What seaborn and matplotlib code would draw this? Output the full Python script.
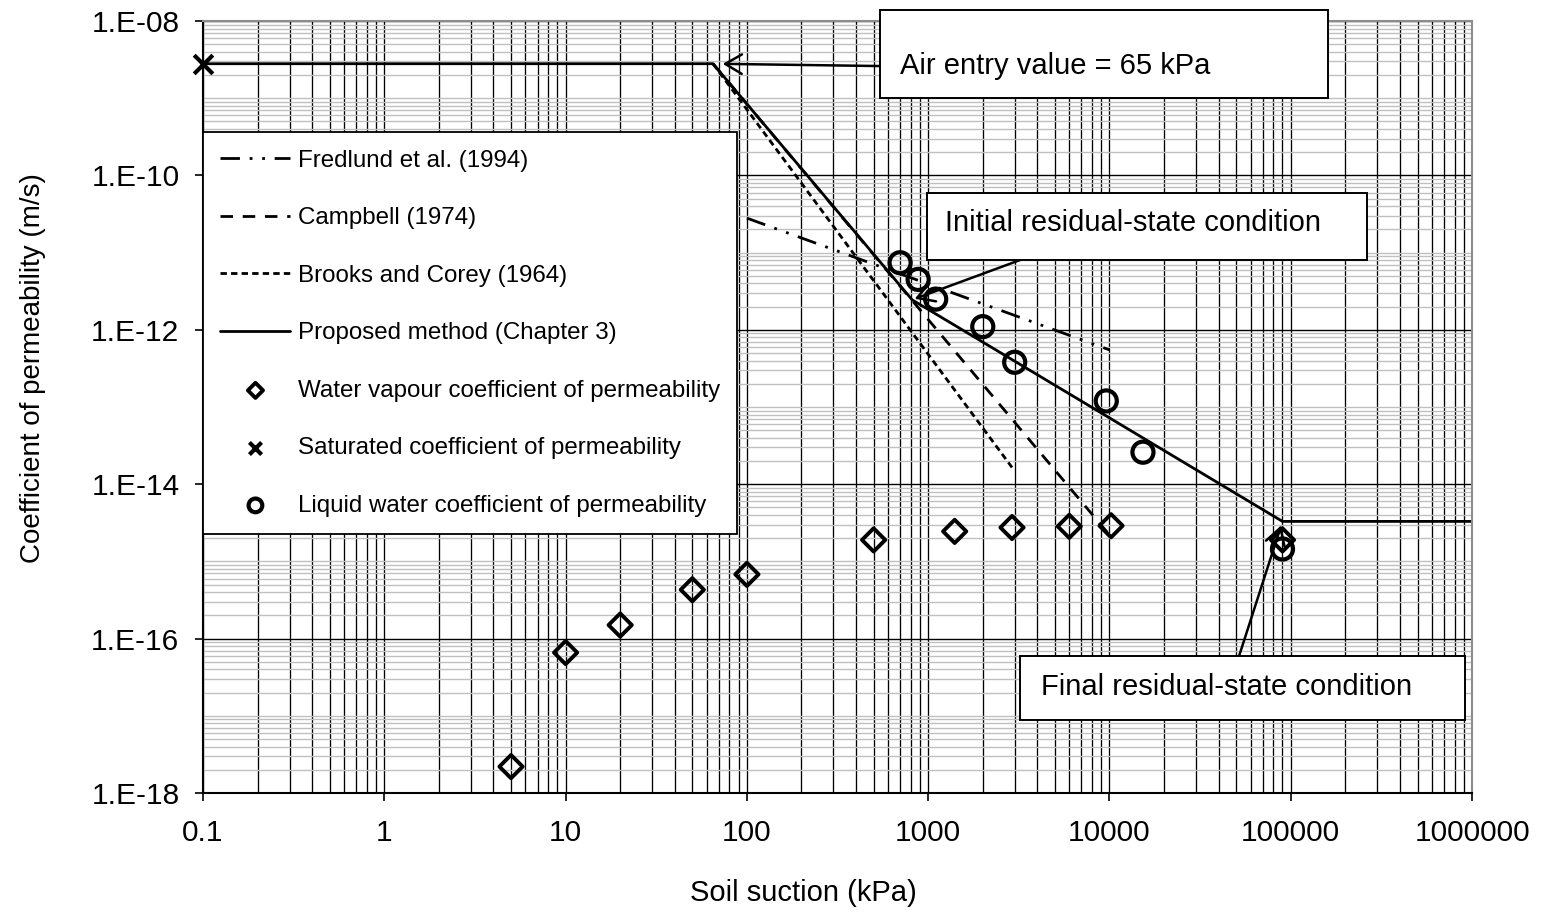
import numpy as np
import matplotlib
matplotlib.use("Agg")
import matplotlib.pyplot as plt
import matplotlib.ticker as mticker
from matplotlib.patches import Rectangle
import seaborn as sns

# ---- data (suction in kPa, permeability in m/s) ----
vapour_suction = [5, 10, 20, 50, 100, 500, 1400, 2900, 6000, 10200, 90000]
vapour_k = [2.2e-18, 6.6e-17, 1.5e-16, 4.3e-16, 6.8e-16, 1.9e-15,
            2.45e-15, 2.75e-15, 2.85e-15, 2.9e-15, 1.9e-15]

liquid_suction = [700, 880, 1100, 2000, 3000, 9600, 15300, 90000]
liquid_k = [7.4e-12, 4.5e-12, 2.5e-12, 1.1e-12, 3.8e-13, 1.2e-13, 2.6e-14, 1.45e-15]

sat_suction = [0.1]
sat_k = [2.8e-9]

proposed_suction = [0.1, 65, 815, 90000, 1000000]
proposed_k = [2.8e-9, 2.8e-9, 2.45e-12, 3.3e-15, 3.3e-15]

campbell_suction = [65, 10000]
campbell_k = [2.8e-9, 2.2e-15]

brooks_suction = [65, 2900]
brooks_k = [2.8e-9, 1.65e-14]

fredlund_suction = [100, 10000]
fredlund_k = [2.8e-11, 5.5e-13]

x_ticks = [0.1, 1, 10, 100, 1000, 10000, 100000, 1000000]
y_ticks = [1e-18, 1e-16, 1e-14, 1e-12, 1e-10, 1e-8]

# ---- style ----
sns.set_style("white")
plt.rcParams["font.family"] = ["Liberation Sans", "DejaVu Sans"]
plt.rcParams["text.color"] = "black"
plt.rcParams["axes.labelcolor"] = "black"
plt.rcParams["xtick.color"] = "black"
plt.rcParams["ytick.color"] = "black"

fig = plt.figure(figsize=(15.45, 9.15), dpi=100)
ax = fig.add_axes([0.1314, 0.1333, 0.8214, 0.8437])
ax.set_xscale("log")
ax.set_yscale("log")
ax.set_xlim(0.1, 1e6)
ax.set_ylim(1e-18, 1e-8)

# model curves
sns.lineplot(x=fredlund_suction, y=fredlund_k, ax=ax, color="black", lw=2.0,
             linestyle=(0, (7, 3.5, 1, 3.5, 1, 3.5)), estimator=None, sort=False,
             label="Fredlund et al. (1994)")
sns.lineplot(x=campbell_suction, y=campbell_k, ax=ax, color="black", lw=2.0,
             linestyle=(0, (4.5, 3.5)), estimator=None, sort=False,
             label="Campbell (1974)")
sns.lineplot(x=brooks_suction, y=brooks_k, ax=ax, color="black", lw=2.0,
             linestyle=(0, (2.3, 1.5)), estimator=None, sort=False,
             label="Brooks and Corey (1964)")
sns.lineplot(x=proposed_suction, y=proposed_k, ax=ax, color="black", lw=2.0,
             linestyle="-", estimator=None, sort=False,
             label="Proposed method (Chapter 3)")

# measured points
sns.scatterplot(x=vapour_suction, y=vapour_k, ax=ax, marker="D", s=140,
                facecolors="none", edgecolor="black", linewidth=2.8, zorder=4,
                label="Water vapour coefficient of permeability")
sns.scatterplot(x=sat_suction, y=sat_k, ax=ax, marker="x", s=180,
                color="black", linewidth=3.0, zorder=4, clip_on=False,
                label="Saturated coefficient of permeability")
sns.scatterplot(x=liquid_suction, y=liquid_k, ax=ax, marker="o", s=230,
                facecolors="none", edgecolor="black", linewidth=3.0, zorder=4,
                label="Liquid water coefficient of permeability")

# ---- axes, ticks, grid ----
ax.xaxis.set_major_locator(mticker.FixedLocator(x_ticks))
x_minor = [k * 10.0 ** e for e in range(-1, 6) for k in range(2, 10)]
ax.xaxis.set_minor_locator(mticker.FixedLocator(x_minor))
ax.xaxis.set_major_formatter(mticker.FuncFormatter(
    lambda v, p: f"{v:g}" if v < 1 else f"{int(round(v))}"))
ax.xaxis.set_minor_formatter(mticker.NullFormatter())

ax.yaxis.set_major_locator(mticker.FixedLocator(y_ticks))
y_minor = [k * 10.0 ** e for e in range(-18, -8) for k in range(1, 10)
           if not (k == 1 and e % 2 == 0)]
ax.yaxis.set_minor_locator(mticker.FixedLocator(y_minor))
ax.yaxis.set_major_formatter(mticker.FuncFormatter(
    lambda v, p: f"1.E{int(round(np.log10(v))):+03d}"))
ax.yaxis.set_minor_formatter(mticker.NullFormatter())

ax.set_axisbelow(True)
ax.grid(which="major", axis="x", color="black", lw=0.95)
ax.grid(which="minor", axis="x", color="black", lw=0.95)
ax.grid(which="minor", axis="y", color="#c0c0c0", lw=1.0)
ax.grid(which="major", axis="y", color="black", lw=1.0)

ax.tick_params(which="major", direction="out", length=6, width=1.2,
               color="black", labelsize=21.5, left=True, bottom=True)
ax.tick_params(axis="y", which="major", pad=11)
ax.tick_params(axis="x", which="major", pad=13)
ax.tick_params(which="minor", length=0)

for side in ("left", "bottom"):
    ax.spines[side].set_color("black")
    ax.spines[side].set_linewidth(1.5)
for side in ("top", "right"):
    ax.spines[side].set_color("#8c8c8c")
    ax.spines[side].set_linewidth(1.5)

ax.set_xlabel("Soil suction (kPa)", fontsize=21)
ax.set_ylabel("Coefficient of permeability (m/s)", fontsize=20)
ax.xaxis.set_label_coords(0.473, -0.112)
ax.yaxis.set_label_coords(-0.124, 0.55)

# ---- legend ----
handles, labels = ax.get_legend_handles_labels()
order = ["Fredlund et al. (1994)", "Campbell (1974)", "Brooks and Corey (1964)",
         "Proposed method (Chapter 3)", "Water vapour coefficient of permeability",
         "Saturated coefficient of permeability",
         "Liquid water coefficient of permeability"]
lookup = dict(zip(labels, handles))
leg = ax.legend([lookup[l] for l in order], order, loc="upper left",
                bbox_to_anchor=(0.0, 0.856), borderaxespad=0, frameon=True,
                fancybox=False, edgecolor="black", framealpha=1, fontsize=17.4,
                handlelength=2.9, handletextpad=0.3, labelspacing=1.47,
                borderpad=0.72, markerscale=0.65)
leg.get_frame().set_linewidth(1.3)
leg.set_zorder(8)

# ---- callouts ----
def callout(text, x0, y0, x1, y1, tx, ty):
    ax.add_patch(Rectangle((x0, y0), x1 - x0, y1 - y0, transform=ax.transAxes,
                           facecolor="white", edgecolor="black", lw=1.4,
                           zorder=9, clip_on=False))
    ax.text(tx, ty, text, transform=ax.transAxes, fontsize=21, ha="left",
            va="center", zorder=10)


def pointer(target, tail, shrink):
    ax.annotate("", xy=target, xycoords="data", xytext=tail,
                textcoords="axes fraction", zorder=7,
                arrowprops=dict(arrowstyle="->,head_length=0.6,head_width=0.35",
                                color="black", lw=1.8, mutation_scale=20,
                                shrinkA=0, shrinkB=shrink))


pointer((proposed_suction[1], proposed_k[1]), (0.5335, 0.9417), 7)
pointer((proposed_suction[2], proposed_k[2]), (0.6438, 0.6904), 2)
pointer((proposed_suction[3], proposed_k[3]), (0.8164, 0.1775), 3)

callout("Air entry value = 65 kPa", 0.5335, 0.900, 0.8865, 1.014, 0.549, 0.942)
callout("Initial residual-state condition", 0.5705, 0.6904, 0.9173, 0.7772,
        0.585, 0.739)
callout("Final residual-state condition", 0.6438, 0.0946, 0.9945, 0.1775,
        0.660, 0.137)

fig.savefig("out.png", dpi=100)
